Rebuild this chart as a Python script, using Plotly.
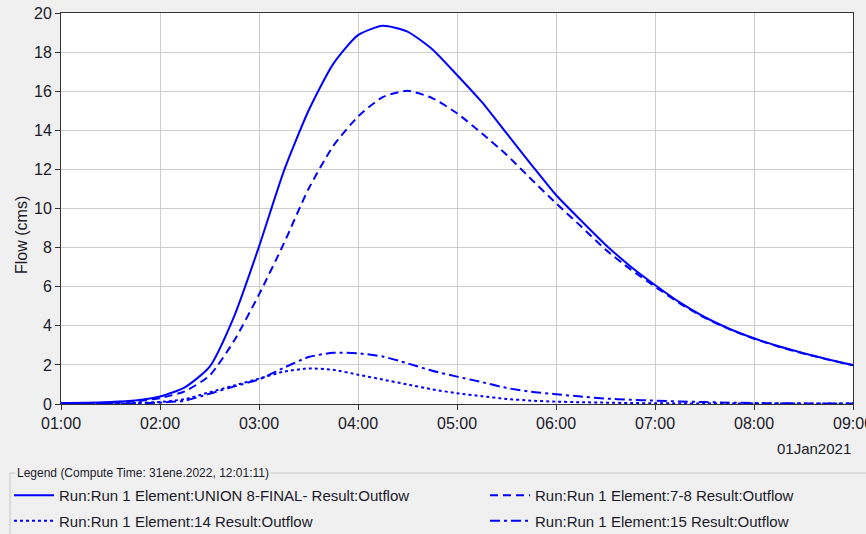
import plotly.graph_objects as go
import pandas as pd

hours = [1.0, 1.25, 1.5, 1.75, 2.0, 2.25, 2.5, 2.75, 3.0, 3.25, 3.5, 3.75, 4.0, 4.25, 4.5, 4.75,
         5.0, 5.25, 5.5, 5.75, 6.0, 6.25, 6.5, 6.75, 7.0, 7.25, 7.5, 7.75, 8.0, 8.25, 8.5, 8.75, 9.0]

union8 = [0.05, 0.06, 0.10, 0.18, 0.38, 0.85, 1.9, 4.5, 8.05, 11.9, 15.0, 17.4, 18.87, 19.35, 19.05, 18.15,
          16.83, 15.45, 13.85, 12.25, 10.69, 9.4, 8.15, 7.05, 6.09, 5.2, 4.45, 3.85, 3.36, 2.95, 2.6, 2.28, 1.99]
elem78 = [0.03, 0.04, 0.07, 0.14, 0.30, 0.65, 1.45, 3.25, 5.6, 8.2, 11.0, 13.2, 14.7, 15.7, 16.02, 15.65,
          14.87, 13.85, 12.75, 11.5, 10.27, 9.1, 7.9, 6.9, 6.0, 5.15, 4.42, 3.83, 3.34, 2.93, 2.58, 2.27, 1.98]
elem14 = [0.0, 0.0, 0.01, 0.05, 0.10, 0.25, 0.6, 0.95, 1.3, 1.65, 1.82, 1.75, 1.5, 1.25, 1.0, 0.75,
          0.55, 0.4, 0.26, 0.17, 0.12, 0.09, 0.07, 0.05, 0.04, 0.03, 0.03, 0.02, 0.02, 0.02, 0.02, 0.02, 0.02]
elem15 = [0.0, 0.0, 0.0, 0.03, 0.07, 0.17, 0.52, 0.9, 1.26, 1.85, 2.4, 2.62, 2.59, 2.43, 2.08, 1.7,
          1.4, 1.12, 0.82, 0.63, 0.5, 0.38, 0.28, 0.22, 0.17, 0.13, 0.10, 0.07, 0.05, 0.04, 0.03, 0.03, 0.02]

names = ["Run:Run 1 Element:UNION 8-FINAL- Result:Outflow",
         "Run:Run 1 Element:7-8 Result:Outflow",
         "Run:Run 1 Element:14 Result:Outflow",
         "Run:Run 1 Element:15 Result:Outflow"]
tick_labels = ["01:00", "02:00", "03:00", "04:00", "05:00", "06:00", "07:00", "08:00", "09:00"]

base = pd.Timestamp("2021-01-01")
times = [base + pd.Timedelta(hours=h) for h in hours]
tick_vals = [base + pd.Timedelta(hours=h) for h in range(1, 10)]

dashes = ["solid", "8px,5px", "3px,3px", "10px,4px,3px,4px"]
legend_ids = ["legend", "legend2", "legend", "legend2"]
series = [union8, elem78, elem14, elem15]

FONT = "Liberation Sans"
TXT = "#1a1a2a"
W, H = 866, 534
L, R, T, B = 61, 13, 13, 130
PW, PH = W - L - R, H - T - B


def px_x(p):
    return (p - L) / PW


def px_y(p):
    return (H - B - p) / PH


fig = go.Figure()
for i, (nm, s, d, lg) in enumerate(zip(names, series, dashes, legend_ids)):
    fig.add_trace(go.Scatter(x=times, y=s, name=nm, mode="lines", legend=lg, legendgroup=f"g{i}",
                             line=dict(color="#0000ff", width=2, dash=d, shape="spline", smoothing=0.6)))

leg_common = dict(orientation="v", yanchor="top", bgcolor="rgba(0,0,0,0)", itemwidth=40,
                  font=dict(family=FONT, size=15, color=TXT), tracegroupgap=3)

fig.update_layout(
    width=W, height=H,
    margin=dict(l=L, r=R, t=T, b=B, autoexpand=False),
    paper_bgcolor="#f0f0f0", plot_bgcolor="white",
    font=dict(family=FONT, size=15, color=TXT),
    showlegend=True,
    legend=dict(x=px_x(9), xanchor="left", y=px_y(479), **leg_common),
    legend2=dict(x=px_x(485), xanchor="left", y=px_y(479), **leg_common),
    xaxis=dict(range=[tick_vals[0], tick_vals[-1]], tickvals=tick_vals, ticktext=tick_labels,
               showgrid=True, gridcolor="#cccccc", gridwidth=1,
               showline=True, linecolor="#333333", linewidth=1, mirror=True,
               ticks="outside", ticklen=5, tickcolor="#333333", zeroline=False,
               ticklabeloverflow="allow", automargin=False,
               tickfont=dict(family=FONT, size=16, color=TXT)),
    yaxis=dict(range=[0, 20], tickvals=list(range(0, 21, 2)),
               showgrid=True, gridcolor="#cccccc", gridwidth=1,
               showline=True, linecolor="#333333", linewidth=1, mirror=True,
               ticks="outside", ticklen=5, tickcolor="#333333", zeroline=False, automargin=False,
               tickfont=dict(family=FONT, size=16, color=TXT)),
)

# y-axis title
fig.add_annotation(text="Flow (cms)", xref="paper", yref="paper", x=px_x(21), y=px_y(235),
                   xanchor="center", yanchor="middle", textangle=-90, showarrow=False,
                   font=dict(family=FONT, size=16, color=TXT))

# legend group box
fig.add_shape(type="rect", xref="paper", yref="paper",
              x0=px_x(10), x1=px_x(870), y0=px_y(540), y1=px_y(473),
              line=dict(color="#c8c8c8", width=1), fillcolor="rgba(0,0,0,0)", layer="below")
fig.add_annotation(text="Legend (Compute Time: 31ene.2022, 12:01:11)", xref="paper", yref="paper",
                   x=px_x(15), y=px_y(473), xanchor="left", yanchor="middle",
                   showarrow=False, bgcolor="#f0f0f0", font=dict(family=FONT, size=12, color=TXT),
                   borderpad=1)
fig.add_annotation(text="01Jan2021", xref="paper", yref="paper", x=1.0, y=px_y(448),
                   xanchor="right", yanchor="middle", showarrow=False,
                   font=dict(family=FONT, size=15, color=TXT))

fig.write_html("out.html")
